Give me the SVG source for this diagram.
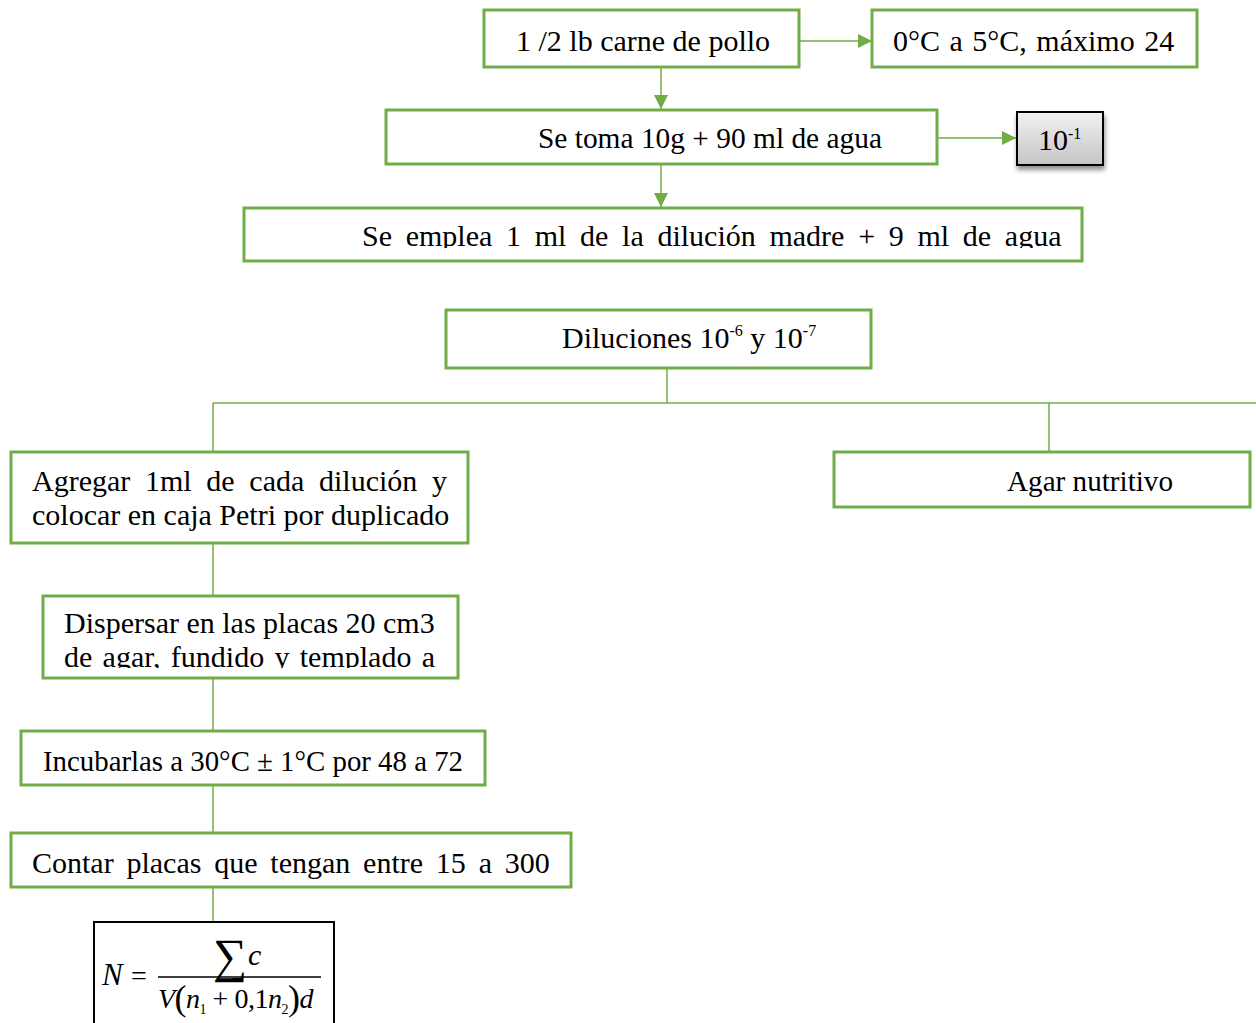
<svg xmlns="http://www.w3.org/2000/svg" width="1256" height="1023" viewBox="0 0 1256 1023">
  <style>
    .box { fill: #ffffff; stroke: #70AD47; stroke-width: 3; }
    .wire { fill: none; stroke: #70AD47; stroke-width: 1.5; }
    .t { font-family: "Liberation Serif", "Times New Roman", serif; font-size: 30px; fill: #000000; }
    .sup { font-size: 16px; }
    .m { font-family: "Liberation Serif", "Times New Roman", serif; fill: #000000; }
  </style>
  <defs>
    <marker id="arrow" viewBox="0 0 10 10" refX="10" refY="5" markerWidth="14" markerHeight="14" markerUnits="userSpaceOnUse" orient="auto">
      <path d="M0,0 L10,5 L0,10 z" fill="#70AD47"/>
    </marker>
    <linearGradient id="gray" x1="0" y1="0" x2="0" y2="1">
      <stop offset="0" stop-color="#f2f2f2"/>
      <stop offset="1" stop-color="#c4c4c4"/>
    </linearGradient>
    <filter id="shadow" x="-20%" y="-20%" width="150%" height="150%">
      <feGaussianBlur in="SourceAlpha" stdDeviation="2.5"/>
      <feOffset dx="1" dy="4" result="b"/>
      <feComponentTransfer><feFuncA type="linear" slope="0.45"/></feComponentTransfer>
      <feMerge><feMergeNode/><feMergeNode in="SourceGraphic"/></feMerge>
    </filter>
    <clipPath id="clipEmplea"><rect x="244" y="208" width="838" height="40"/></clipPath>
    <clipPath id="clipDispersar"><rect x="43" y="596" width="415" height="72"/></clipPath>
  </defs>

  <!-- connectors -->
  <g id="connectors">
    <line class="wire" x1="799" y1="41" x2="872" y2="41" marker-end="url(#arrow)"/>
    <line class="wire" x1="661" y1="67" x2="661" y2="109" marker-end="url(#arrow)"/>
    <line class="wire" x1="937" y1="138" x2="1016" y2="138" marker-end="url(#arrow)"/>
    <line class="wire" x1="661" y1="164" x2="661" y2="207" marker-end="url(#arrow)"/>
    <polyline class="wire" points="667,368 667,403"/>
    <line class="wire" x1="213" y1="403" x2="1256" y2="403"/>
    <line class="wire" x1="213" y1="403" x2="213" y2="452"/>
    <line class="wire" x1="1049" y1="403" x2="1049" y2="452"/>
    <line class="wire" x1="213" y1="543" x2="213" y2="596"/>
    <line class="wire" x1="213" y1="678" x2="213" y2="731"/>
    <line class="wire" x1="213" y1="785" x2="213" y2="833"/>
    <line class="wire" x1="213" y1="887" x2="213" y2="922"/>
  </g>

  <g id="pollo">
    <rect class="box" x="484" y="10" width="315" height="57"/>
    <text class="t" x="516" y="51">1 /2 lb carne de pollo</text>
  </g>

  <g id="temperatura">
    <rect class="box" x="872" y="10" width="325" height="57"/>
    <text class="t" x="893" y="51" word-spacing="2">0°C a 5°C, máximo 24</text>
  </g>

  <g id="toma">
    <rect class="box" x="386" y="110" width="551" height="54"/>
    <text class="t" x="538" y="148" textLength="344" lengthAdjust="spacingAndGlyphs">Se toma 10g + 90 ml de agua</text>
  </g>

  <g id="dilucion1">
    <rect x="1017" y="112" width="86" height="53" fill="url(#gray)" stroke="#000000" stroke-width="2" filter="url(#shadow)"/>
    <text class="t" x="1038" y="150">10<tspan class="sup" dy="-11">-1</tspan></text>
  </g>

  <g id="emplea">
    <rect class="box" x="244" y="208" width="838" height="53"/>
    <text class="t" x="362" y="246" word-spacing="6.2" clip-path="url(#clipEmplea)">Se emplea 1 ml de la dilución madre + 9 ml de agua</text>
  </g>

  <g id="diluciones">
    <rect class="box" x="446" y="310" width="425" height="58"/>
    <text class="t" x="562" y="348">Diluciones 10<tspan class="sup" dy="-12">-6</tspan><tspan dy="12"> y 10</tspan><tspan class="sup" dy="-12">-7</tspan></text>
  </g>

  <g id="agregar">
    <rect class="box" x="11" y="452" width="457" height="91"/>
    <text class="t" x="32" y="491" word-spacing="7.2">Agregar 1ml de cada dilución y</text>
    <text class="t" x="32" y="525">colocar en caja Petri por duplicado</text>
  </g>

  <g id="agar-nutritivo">
    <rect class="box" x="834" y="452" width="416" height="55"/>
    <text class="t" x="1007" y="491" textLength="166" lengthAdjust="spacingAndGlyphs">Agar nutritivo</text>
  </g>

  <g id="dispersar">
    <rect class="box" x="43" y="596" width="415" height="82"/>
    <g clip-path="url(#clipDispersar)">
      <text class="t" x="64" y="633">Dispersar en las placas 20 cm3</text>
      <text class="t" x="64" y="667" word-spacing="2.8">de agar, fundido y templado a</text>
    </g>
  </g>

  <g id="incubar">
    <rect class="box" x="21" y="731" width="464" height="54"/>
    <text class="t" x="43" y="771" textLength="420" lengthAdjust="spacingAndGlyphs">Incubarlas a 30°C ± 1°C por 48 a 72</text>
  </g>

  <g id="contar">
    <rect class="box" x="11" y="833" width="560" height="54"/>
    <text class="t" x="32" y="873" word-spacing="5.3">Contar placas que tengan entre 15 a 300</text>
  </g>

  <g id="formula">
    <rect x="94" y="922" width="240" height="110" fill="#ffffff" stroke="#000000" stroke-width="2"/>
    <text class="m" x="102" y="985" font-size="31" font-style="italic">N</text>
    <text class="m" x="131" y="985" font-size="28">=</text>
    <text class="m" x="213" y="972" font-size="48">∑</text>
    <text class="m" x="248" y="965" font-size="30" font-style="italic">c</text>
    <line x1="158" y1="977" x2="321" y2="977" stroke="#000000" stroke-width="1.3"/>
    <text class="m" x="158" y="1008" font-size="28" letter-spacing="-0.5"><tspan font-style="italic">V</tspan><tspan font-size="36" dy="2">(</tspan><tspan font-style="italic" dy="-2">n</tspan><tspan font-size="14" dy="6">1</tspan><tspan dy="-6"> + 0,1</tspan><tspan font-style="italic">n</tspan><tspan font-size="14" dy="6">2</tspan><tspan font-size="36" dy="-4">)</tspan><tspan font-style="italic" dy="-2">d</tspan></text>
  </g>
</svg>
